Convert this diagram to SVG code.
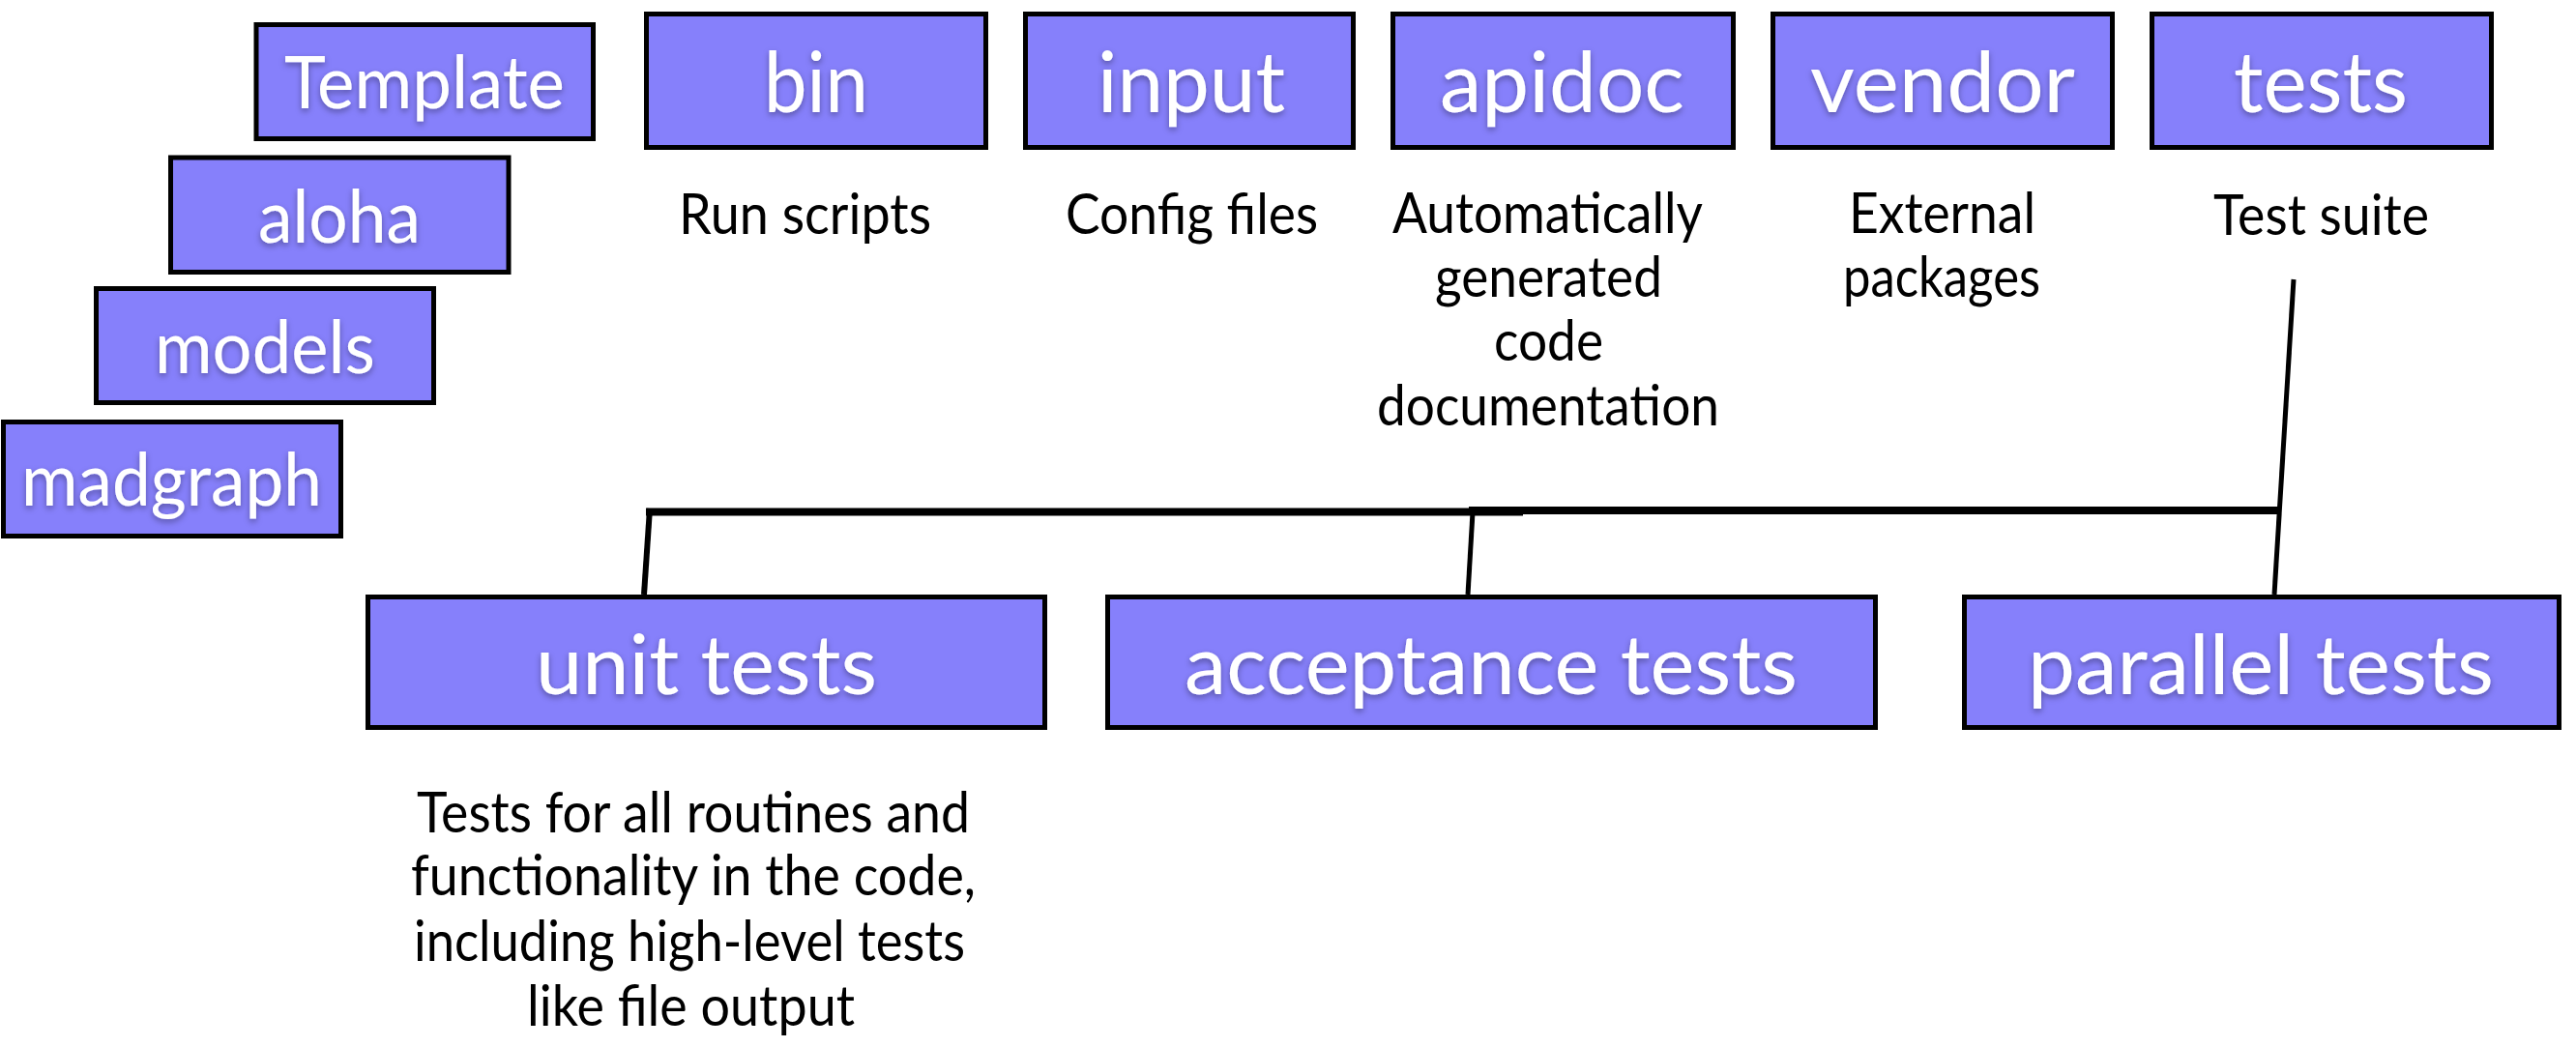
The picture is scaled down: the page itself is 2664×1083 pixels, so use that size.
<svg xmlns="http://www.w3.org/2000/svg" width="2664" height="1083" viewBox="0 0 2664 1083">
<defs>
  <filter id="sh" x="-10%" y="-30%" width="120%" height="160%">
    <feDropShadow dx="0" dy="3" stdDeviation="3" flood-color="#000" flood-opacity="0.35"/>
  </filter>
</defs>
<style>
  .box { fill: #8680fb; stroke: #000; stroke-width: 5; }
  .lbl { fill: #fff; font-family: Lato, "Liberation Sans", sans-serif; filter: url(#sh); }
  .top { font-size: 88px; }
  .left { font-size: 75px; }
  .bot { font-size: 86px; }
  .desc { fill: #000; font-family: Lato, "Liberation Sans", sans-serif; font-size: 59px; }
  .conn { stroke: #000; fill: none; stroke-linecap: butt; }
</style>
<rect width="2664" height="1083" fill="#fff"/>

<g id="connectors">
  <line class="conn" x1="2372" y1="289" x2="2352" y2="615" stroke-width="5"/>
  <line class="conn" x1="668" y1="529.5" x2="1575" y2="529.5" stroke-width="8"/>
  <line class="conn" x1="1519" y1="528" x2="2357" y2="528" stroke-width="8"/>
  <line class="conn" x1="672" y1="526" x2="666" y2="615" stroke-width="6"/>
  <line class="conn" x1="1523" y1="530" x2="1518" y2="615" stroke-width="5"/>
</g>

<g id="node-template">
  <rect class="box" x="265" y="25.5" width="348.5" height="118"/>
  <text class="lbl left" x="294" y="112" textLength="290" lengthAdjust="spacingAndGlyphs">Template</text>
</g>
<g id="node-aloha">
  <rect class="box" x="176.5" y="163" width="349.5" height="118.5"/>
  <text class="lbl left" x="267" y="251" textLength="168" lengthAdjust="spacingAndGlyphs">aloha</text>
</g>
<g id="node-models">
  <rect class="box" x="99.5" y="298.5" width="349" height="118"/>
  <text class="lbl left" x="160" y="386" textLength="228" lengthAdjust="spacingAndGlyphs">models</text>
</g>
<g id="node-madgraph">
  <rect class="box" x="3.5" y="436.5" width="349" height="118"/>
  <text class="lbl left" x="22" y="523" textLength="311" lengthAdjust="spacingAndGlyphs">madgraph</text>
</g>

<g id="node-bin">
  <rect class="box" x="668.5" y="14.5" width="351" height="138"/>
  <text class="lbl top" x="790" y="116" textLength="108" lengthAdjust="spacingAndGlyphs">bin</text>
  <text class="desc" x="702" y="242" textLength="261" lengthAdjust="spacingAndGlyphs">Run scripts</text>
</g>
<g id="node-input">
  <rect class="box" x="1060.5" y="14.5" width="339" height="138"/>
  <text class="lbl top" x="1135" y="116" textLength="194" lengthAdjust="spacingAndGlyphs">input</text>
  <text class="desc" x="1102" y="242" textLength="261" lengthAdjust="spacingAndGlyphs">Config files</text>
</g>
<g id="node-apidoc">
  <rect class="box" x="1440.5" y="14.5" width="352" height="138"/>
  <text class="lbl top" x="1489" y="116" textLength="253" lengthAdjust="spacingAndGlyphs">apidoc</text>
  <text class="desc" x="1440" y="241" textLength="321" lengthAdjust="spacingAndGlyphs">Automatically</text>
  <text class="desc" x="1484" y="307" textLength="235" lengthAdjust="spacingAndGlyphs">generated</text>
  <text class="desc" x="1545" y="373" textLength="113" lengthAdjust="spacingAndGlyphs">code</text>
  <text class="desc" x="1424" y="440" textLength="354" lengthAdjust="spacingAndGlyphs">documentation</text>
</g>
<g id="node-vendor">
  <rect class="box" x="1833.5" y="14.5" width="351" height="138"/>
  <text class="lbl top" x="1872" y="116" textLength="274" lengthAdjust="spacingAndGlyphs">vendor</text>
  <text class="desc" x="1912" y="241" textLength="193" lengthAdjust="spacingAndGlyphs">External</text>
  <text class="desc" x="1906" y="307" textLength="204" lengthAdjust="spacingAndGlyphs">packages</text>
</g>
<g id="node-tests">
  <rect class="box" x="2225.5" y="14.5" width="351" height="138"/>
  <text class="lbl top" x="2310" y="116" textLength="180" lengthAdjust="spacingAndGlyphs">tests</text>
  <text class="desc" x="2289" y="243" textLength="223" lengthAdjust="spacingAndGlyphs">Test suite</text>
</g>

<g id="node-unit-tests">
  <rect class="box" x="380.5" y="617.5" width="700" height="135"/>
  <text class="lbl bot" x="554" y="718" textLength="353" lengthAdjust="spacingAndGlyphs">unit tests</text>
  <text class="desc" x="431" y="861" textLength="572" lengthAdjust="spacingAndGlyphs">Tests for all routines and</text>
  <text class="desc" x="425" y="926" textLength="584" lengthAdjust="spacingAndGlyphs">functionality in the code,</text>
  <text class="desc" x="428" y="994" textLength="570" lengthAdjust="spacingAndGlyphs">including high-level tests</text>
  <text class="desc" x="545" y="1061" textLength="339" lengthAdjust="spacingAndGlyphs">like file output</text>
</g>
<g id="node-acceptance-tests">
  <rect class="box" x="1145.5" y="617.5" width="794" height="135"/>
  <text class="lbl bot" x="1225" y="718" textLength="634" lengthAdjust="spacingAndGlyphs">acceptance tests</text>
</g>
<g id="node-parallel-tests">
  <rect class="box" x="2031.5" y="617.5" width="615" height="135"/>
  <text class="lbl bot" x="2097" y="718" textLength="482" lengthAdjust="spacingAndGlyphs">parallel tests</text>
</g>
</svg>
